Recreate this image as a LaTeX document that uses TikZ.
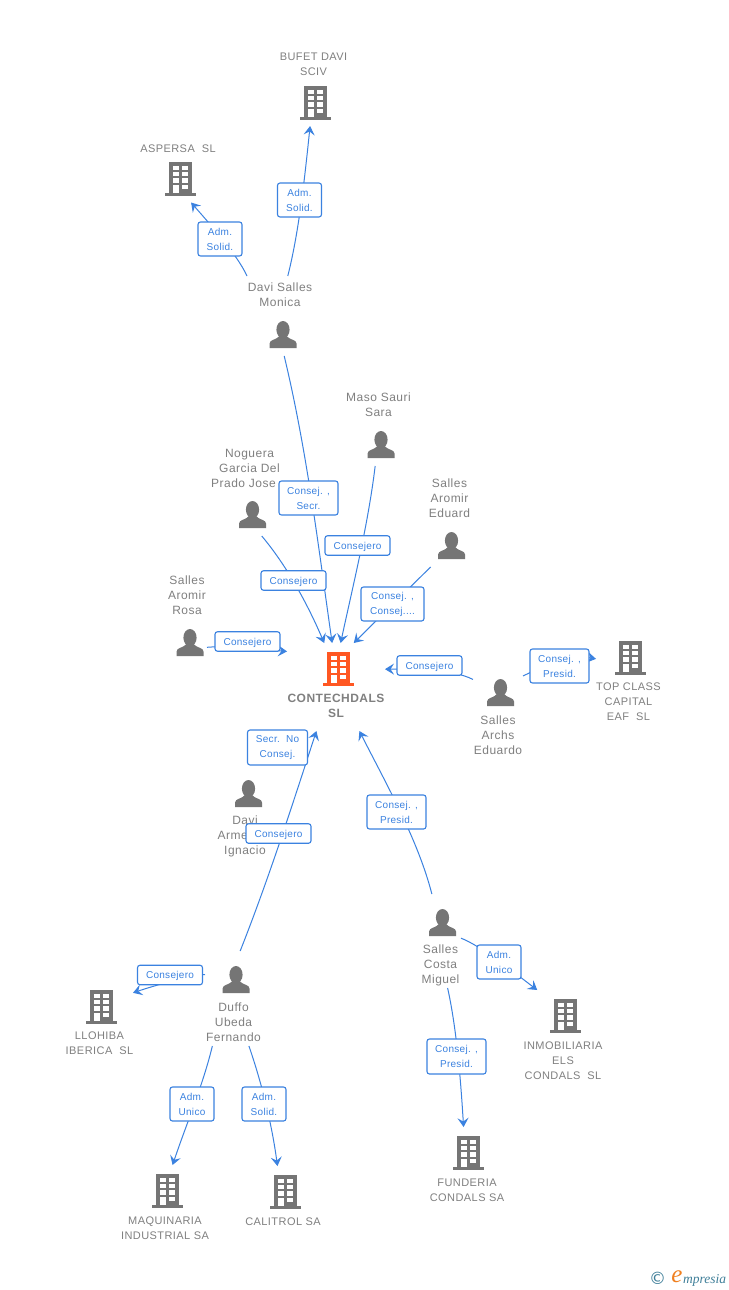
\documentclass[tikz,border=0pt]{standalone}
\usepackage{fontspec}
\usetikzlibrary{arrows.meta}
\setmainfont{Liberation Sans}
\newfontfamily\namefont[LetterSpace=4]{Liberation Sans}
\newfontfamily\namebold[LetterSpace=4]{Liberation Sans Bold}
\newfontfamily\tagfont[LetterSpace=3]{Liberation Sans}
\newfontfamily\logofont{Liberation Serif Italic}
\newfontfamily\copyfont{DejaVu Sans}
\definecolor{edgeblue}{HTML}{3B82E0}
\definecolor{icongray}{HTML}{757575}
\definecolor{textgray}{HTML}{808080}
\definecolor{iconorange}{HTML}{FF5722}
\definecolor{logoteal}{HTML}{3F7F99}
\definecolor{logoorange}{HTML}{F08020}
\tikzset{
  hitbox/.style={inner sep=0pt,outer sep=0pt,draw=none,fill=none,rectangle},
  linkline/.style={draw=edgeblue,line width=1pt,-{Stealth[length=9pt,width=11pt,inset=3.5pt]}},
  linktag/.style={draw=edgeblue,fill=white,line width=1.1pt,rounded corners=2.5pt,inner sep=0pt,
    text=edgeblue,align=center,font=\tagfont\fontsize{10}{15}\selectfont},
  tagone/.style={linktag,minimum width=65pt,minimum height=19.5pt,text height=9pt,text depth=2pt},
  tagtwo/.style={linktag,minimum height=34pt},
  personname/.style={inner sep=0pt,text=textgray,align=center,font=\namefont\fontsize{12}{15}\selectfont},
  firmname/.style={inner sep=0pt,text=textgray,align=center,font=\namefont\fontsize{11}{15}\selectfont},
}
% building icon: #1 colour, #2 centre x, #3 top y (34 tall, 31 wide)
\newcommand\buildingicon[3]{%
  \begin{scope}[shift={(#2,#3)}]
    \fill[#1] (-11.5,0) rectangle (11.5,31);
    \fill[#1] (-15.5,31) rectangle (15.5,34);
    \foreach \r in {3.7,10,16.3}{
      \fill[white] (-7.3,\r) rectangle (-1.5,\r+4.3);
      \fill[white] (1.7,\r) rectangle (7.5,\r+4.3);
    }
    \fill[white] (-7.3,23) rectangle (-1.5,31);
    \fill[white] (1.7,23) rectangle (7.5,27.3);
  \end{scope}}
% person icon: #1 centre x, #2 top y (27 tall, 27 wide)
\newcommand\personicon[2]{%
  \begin{scope}[shift={(#1,#2)}]
    \fill[icongray] (0,8.7) ellipse (6.6 and 8.7);
    \fill[icongray] (-13.5,27) -- (-13.5,22.5) .. controls (-13.5,18.5) and (-6.5,19) .. (-3.5,15)
      -- (3.5,15) .. controls (6.5,19) and (13.5,18.5) .. (13.5,22.5) -- (13.5,27) -- cycle;
  \end{scope}}
\begin{document}
\begin{tikzpicture}[x=1pt,y=-1pt]
\useasboundingbox (0,0) rectangle (728,1290);
\fill[white] (0,0) rectangle (728,1290);

% invisible boxes that the connectors stop at
\node[hitbox,minimum width=98pt,minimum height=88pt] (contech) at (336,687) {};
\node[hitbox,minimum width=70pt,minimum height=80pt] (bufet) at (315,86) {};
\node[hitbox,minimum width=78pt,minimum height=63pt] (aspersa) at (179,171) {};
\node[hitbox,minimum width=66pt,minimum height=80pt] (monica) at (280,316) {};
\node[hitbox,minimum width=67pt,minimum height=76pt] (maso) at (378.5,428) {};
\node[hitbox,minimum width=75pt,minimum height=90pt] (noguera) at (248,491) {};
\node[hitbox,minimum width=44pt,minimum height=91pt] (eduard) at (450,521.5) {};
\node[hitbox,minimum width=40pt,minimum height=87pt] (rosa) at (187,616.5) {};
\node[hitbox,minimum width=50pt,minimum height=81pt] (eduardo) at (498,716.5) {};
\node[hitbox,minimum width=66pt,minimum height=84pt] (topclass) at (629,682) {};
\node[hitbox,minimum width=57pt,minimum height=95pt] (duffo) at (233.5,998.5) {};
\node[hitbox,minimum width=67pt,minimum height=70pt] (llohiba) at (99.5,1023) {};
\node[hitbox,minimum width=88pt,minimum height=78pt] (maquinaria) at (165,1204) {};
\node[hitbox,minimum width=76pt,minimum height=63pt] (calitrol) at (283,1197.5) {};
\node[hitbox,minimum width=74pt,minimum height=78pt] (funderia) at (467,1166) {};
\node[hitbox,minimum width=80pt,minimum height=93pt] (inmob) at (563,1036.5) {};
\node[hitbox,minimum width=40pt,minimum height=94pt] (costa) at (441,941) {};

% icons
\buildingicon{iconorange}{338}{652}
\buildingicon{icongray}{315}{86}
\buildingicon{icongray}{180}{162}
\buildingicon{icongray}{630}{641}
\buildingicon{icongray}{101}{990}
\buildingicon{icongray}{167}{1174}
\buildingicon{icongray}{285}{1175}
\buildingicon{icongray}{468}{1136}
\buildingicon{icongray}{565}{999}
\personicon{283}{321}
\personicon{381}{431}
\personicon{252.5}{501}
\personicon{451.5}{532}
\personicon{190}{629}
\personicon{500.5}{679}
\personicon{248.5}{780}
\personicon{236}{966}
\personicon{442.5}{909}

% names
\node[inner sep=0pt,text=textgray,align=center,font=\namebold\fontsize{12}{15}\selectfont] (tcontech) at (336,705.5) {CONTECHDALS\\SL};
\node[firmname] (tbufet) at (313.5,64.2) {BUFET DAVI\\SCIV};
\node[firmname] (taspersa) at (178,148.7) {ASPERSA\ \ SL};
\node[firmname] (ttop) at (628.5,701.7) {TOP CLASS\\CAPITAL\\EAF\ \ SL};
\node[firmname] (tllohiba) at (99.5,1043.2) {LLOHIBA\\IBERICA\ \ SL};
\node[firmname] (tmaq) at (165,1228.2) {MAQUINARIA\\INDUSTRIAL SA};
\node[firmname] (tcali) at (283,1221.7) {CALITROL SA};
\node[firmname] (tfund) at (467,1190.2) {FUNDERIA\\CONDALS SA};
\node[firmname] (tinmo) at (563,1060.7) {INMOBILIARIA\\ELS\\CONDALS\ \ SL};
\node[personname] (tmonica) at (280,294.5) {Davi Salles\\Monica};
\node[personname] (tmaso) at (378.5,404.5) {Maso Sauri\\Sara};
\node[personname] (tnog) at (249.5,468) {Noguera\\Garcia Del\\Prado Jose\hspace*{12pt}};
\node[personname] (teduard) at (449.5,498) {Salles\\Aromir\\Eduard};
\node[personname] (trosa) at (187,595) {Salles\\Aromir\\Rosa};
\node[personname] (teduardo) at (498,735) {Salles\\Archs\\Eduardo};
\node[personname] (tarmengol) at (245,836) {Davi\\Armengol\\Ignacio};
\node[personname] (tduffo) at (233.5,1022) {Duffo\\Ubeda\\Fernando};
\node[personname] (tcosta) at (440.5,965) {Salles\\Costa\\Miguel};

% connectors
\draw[linkline] (monica.north west) .. controls (237,254) and (208,222) .. (aspersa.-69.1);
\draw[linkline] (monica.79.7) .. controls (299,232) and (305,175) .. (bufet.-97.1);
\draw[linkline] (monica.-84.3) .. controls (307,451) and (318.4,547) .. (contech.95.6);
\draw[linkline] (maso.-95.3) .. controls (368,525) and (353.3,584) .. (contech.84.8);
\draw[linkline] (noguera.-73.9) .. controls (287,566) and (308,605) .. (contech.105.3);
\draw[linkline] (eduard.-113.7) .. controls (404,593) and (379,618) .. (contech.68.5);
\draw[linkline] (rosa.-57) .. controls (235,645) and (265,650) .. (contech.144.5);
\draw[linkline] (eduardo.124.4) .. controls (450,668) and (410,669) .. (contech.20.2);
\draw[linkline] (eduardo.north east) .. controls (545,665) and (575,655) .. (topclass.145.1);
\draw[linkline] (duffo.82.2) .. controls (269,878) and (292.6,804) .. (contech.-114.4);
\draw[linkline] (costa.101.2) .. controls (418,840) and (386.8,785) .. (contech.-62.1);
\draw[linkline] (duffo.140.5) .. controls (190,975) and (150,987) .. (llohiba.42.8);
\draw[linkline] (duffo.-114.4) .. controls (203,1085) and (186,1125) .. (maquinaria.79.8);
\draw[linkline] (duffo.-72.3) .. controls (262,1084) and (272,1125) .. (calitrol.100.3);
\draw[linkline] (costa.-82.4) .. controls (457,1030) and (461,1085) .. (funderia.95.4);
\draw[linkline] (costa.8.5) .. controls (480,945) and (520,977) .. (inmob.119.2);

% connector labels
\node[tagtwo,minimum width=44pt] (l1) at (220,239) {Adm.\\Solid.};
\node[tagtwo,minimum width=44pt] (l2) at (299.5,200) {Adm.\\Solid.};
\node[tagtwo,minimum width=59pt] (l3) at (308.5,498) {Consej. ,\\Secr.};
\node[tagone] (l4) at (357.5,545.5) {Consejero};
\node[tagone] (l5) at (293.5,580.5) {Consejero};
\node[tagtwo,minimum width=63pt] (l6) at (392.5,604) {Consej. ,\\Consej....};
\node[tagone] (l7) at (247.5,641.5) {Consejero};
\node[tagone] (l8) at (429.5,665.5) {Consejero};
\node[tagtwo,minimum width=59pt] (l9) at (559.5,666) {Consej. ,\\Presid.};
\node[tagtwo,minimum width=60pt,minimum height=35pt] (l10) at (277.5,747.5) {Secr.\ \ No\\Consej.};
\node[tagone] (l11) at (278.5,833.5) {Consejero};
\node[tagtwo,minimum width=59pt] (l12) at (396.5,812) {Consej. ,\\Presid.};
\node[tagtwo,minimum width=44pt] (l13) at (499,962) {Adm.\\Unico};
\node[tagone] (l14) at (170,975) {Consejero};
\node[tagtwo,minimum width=44pt] (l15) at (192,1104) {Adm.\\Unico};
\node[tagtwo,minimum width=44pt] (l16) at (264,1104) {Adm.\\Solid.};
\node[tagtwo,minimum width=59pt,minimum height=35pt] (l17) at (456.5,1056.5) {Consej. ,\\Presid.};

% logo
\node[inner sep=0pt,text=logoteal,font=\copyfont\fontsize{17}{17}\selectfont] (copy) at (657.5,1278.5) {©};
\node[inner sep=0pt,text=logoorange,font=\logofont\fontsize{25}{25}\selectfont] (loge) at (677,1276.5) {e};
\node[inner sep=0pt,text=logoteal,anchor=west,font=\logofont\fontsize{13.5}{14}\selectfont] (logt) at (683,1280) {mpresia};
\end{tikzpicture}
\end{document}
